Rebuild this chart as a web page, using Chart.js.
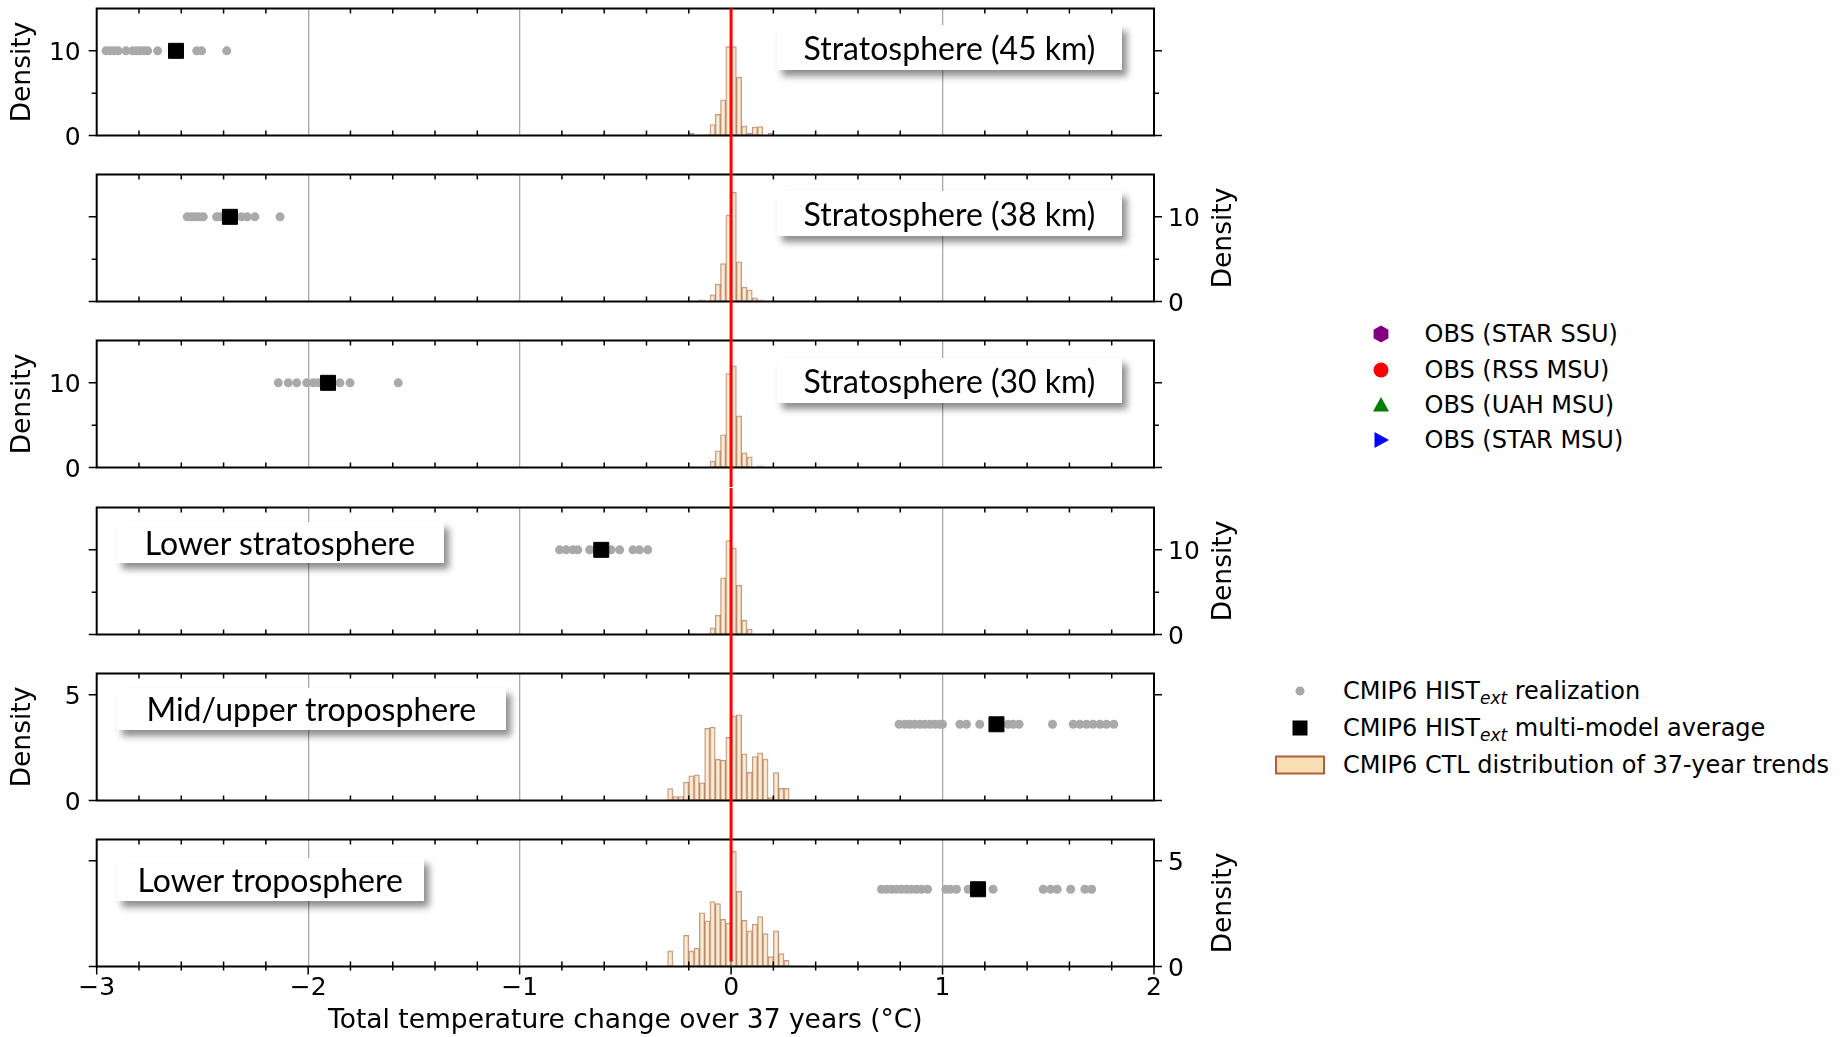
<!DOCTYPE html>
<html>
<head>
<meta charset="utf-8">
<title>Total temperature change over 37 years</title>
<script src="https://cdn.jsdelivr.net/npm/chart.js@4.4.1/dist/chart.umd.min.js"></script>
<style>
  html, body { margin: 0; padding: 0; background: #fff; overflow: hidden; }
  #fig { position: relative; width: 1846px; height: 1037px; overflow: hidden; font-family: 'DejaVu Sans', sans-serif; color: #000; }
  #fig canvas { position: absolute; left: 0; }
  .tag {
    position: absolute; background: #fff; box-shadow: 5px 6px 7px rgba(0,0,0,.45);
    font-family: Lato, sans-serif; font-size: 32px; display: flex; align-items: center;
    justify-content: center; white-space: nowrap;
  }
  .lg { position: absolute; font-size: 24px; line-height: 30px; height: 30px; white-space: nowrap; }
  .lg sub { font-style: italic; font-size: 17px; vertical-align: -5px; line-height: 0; }
  .mk { position: absolute; }
</style>
</head>
<body>
<div id="fig"></div>
<script>
// histogram bins, 0.025 wide, centred on these trend values (°C)
const binCenters = [
  -0.2875, -0.2625, -0.2375, -0.2125, -0.1875, -0.1625, -0.1375, -0.1125,
  -0.0875, -0.0625, -0.0375, -0.0125, 0.0125, 0.0375, 0.0625, 0.0875,
  0.1125, 0.1375, 0.1625, 0.1875, 0.2125, 0.2375, 0.2625, 0.2875
];

// CTL density of 37-year trends, one array per layer
const histStrat45 = [0, 0, 0, 0, 0.27, 0, 0, 0.1, 1.3, 2.5, 4.2, 10.5, 10.5, 6.9, 1.1, 0.27, 1.0, 1.06, 0, 0.27, 0, 0, 0, 0];
const histStrat38 = [0, 0, 0, 0, 0, 0, 0.2, 0, 0.79, 2.05, 4.47, 10.2, 12.9, 4.7, 1.7, 1.38, 0.43, 0.2, 0, 0, 0, 0, 0, 0];
const histStrat30 = [0, 0, 0, 0, 0, 0, 0, 0, 0.75, 1.98, 3.87, 11.1, 12.0, 6.1, 1.74, 1.26, 0, 0.2, 0, 0, 0, 0, 0, 0];
const histLowerStrat = [0, 0, 0, 0, 0, 0, 0, 0, 0.79, 2.29, 6.7, 11.1, 10.2, 5.8, 1.66, 0.63, 0, 0, 0, 0, 0, 0, 0, 0];
const histMidUpperTrop = [0.56, 0.19, 0.19, 0.87, 1.17, 1.21, 0.84, 3.41, 3.46, 1.94, 1.90, 2.98, 4.00, 4.05, 2.20, 1.33, 2.08, 2.25, 1.97, 0.14, 1.32, 0.57, 0.57, 0];
const histLowerTrop = [0.74, 0, 0, 1.47, 0.74, 0.87, 2.54, 2.16, 3.07, 2.97, 2.23, 2.05, 5.44, 3.55, 2.18, 1.68, 2.00, 2.36, 1.55, 0.47, 1.68, 0.61, 0.29, 0];

// HIST_ext realizations (total change, °C)
const runsStrat45 = [-2.956, -2.937, -2.918, -2.898, -2.861, -2.830, -2.811, -2.795, -2.776, -2.759, -2.712, -2.638, -2.527, -2.504, -2.385];
const runsStrat38 = [-2.572, -2.553, -2.534, -2.515, -2.496, -2.433, -2.417, -2.390, -2.315, -2.288, -2.252, -2.133];
const runsStrat30 = [-2.141, -2.094, -2.054, -2.007, -1.976, -1.952, -1.850, -1.802, -1.574];
const runsLowerStrat = [-0.811, -0.780, -0.748, -0.725, -0.669, -0.640, -0.567, -0.527, -0.464, -0.433, -0.394];
const runsMidUpperTrop = [0.795, 0.822, 0.845, 0.869, 0.893, 0.916, 0.940, 0.964, 0.987, 1.000, 1.082, 1.113, 1.176, 1.310, 1.334, 1.362, 1.520, 1.618, 1.649, 1.681, 1.712, 1.744, 1.775, 1.810];
const runsLowerTrop = [0.711, 0.735, 0.759, 0.782, 0.806, 0.830, 0.853, 0.877, 0.901, 0.929, 1.016, 1.038, 1.066, 1.121, 1.239, 1.476, 1.511, 1.542, 1.606, 1.673, 1.705];

// multi-model averages and the density level the markers sit at
const multiModelMean = [-2.625, -2.370, -1.906, -0.614, 1.255, 1.168];
const markerLevel = [10, 10, 10, 10, 3.6, 3.65];

const layerNames = ['Stratosphere (45 km)', 'Stratosphere (38 km)', 'Stratosphere (30 km)',
  'Lower stratosphere', 'Mid/upper troposphere', 'Lower troposphere'];
const densityMax = [15, 15, 15, 15, 6, 6];
const densityTicks = [[0, 10], [0, 10], [0, 10], [0, 10], [0, 5], [0, 5]];
const densityMinor = [[5], [5], [5], [5], [], []];
const axisSide = ['left', 'right', 'left', 'right', 'left', 'right'];
const xMin = -3, xMax = 2;

const hists = [histStrat45, histStrat38, histStrat30, histLowerStrat, histMidUpperTrop, histLowerTrop];
const runs = [runsStrat45, runsStrat38, runsStrat30, runsLowerStrat, runsMidUpperTrop, runsLowerTrop];

const TICK_FONT = { family: 'DejaVu Sans', size: 25 };
const minus = (v) => (v < 0 ? '\u2212' + Math.abs(v) : String(v));

// box, ticks, zero line and the y title
const frame = {
  id: 'frame',
  afterDraw(chart, args, o) {
    const { ctx, chartArea: a, scales: { x, y } } = chart;
    ctx.save();
    ctx.strokeStyle = '#000';
    ctx.lineWidth = 1.5;
    ctx.beginPath();
    for (let k = xMin * 5 + 1; k < xMax * 5; k++) {
      if (k % 5 === 0) continue;
      const px = x.getPixelForValue(k / 5);
      ctx.moveTo(px, a.top); ctx.lineTo(px, a.top + 5);
      ctx.moveTo(px, a.bottom - 5); ctx.lineTo(px, a.bottom + (o.last ? 4 : 0));
    }
    if (o.last) {
      for (let v = xMin; v <= xMax; v++) {
        const px = x.getPixelForValue(v);
        ctx.moveTo(px, a.bottom); ctx.lineTo(px, a.bottom + 8);
      }
    }
    const yt = (v, len) => {
      const py = y.getPixelForValue(v);
      ctx.moveTo(a.left - len, py); ctx.lineTo(a.left, py);
      ctx.moveTo(a.right, py); ctx.lineTo(a.right + len, py);
    };
    o.major.forEach((v) => yt(v, 8));
    o.minor.forEach((v) => yt(v, 5));
    ctx.stroke();

    ctx.lineWidth = 2;
    ctx.strokeRect(a.left, a.top, a.width, a.height);

    // y title reads bottom-to-top on either side
    ctx.fillStyle = '#000';
    ctx.font = '26.5px "DejaVu Sans"';
    ctx.textAlign = 'center';
    ctx.textBaseline = 'middle';
    const tx = o.side === 'left' ? a.left - 74 : a.right + 70;
    ctx.translate(tx, (a.top + a.bottom) / 2);
    ctx.rotate(-Math.PI / 2);
    ctx.fillText('Density', 0, 0);
    ctx.setTransform(1, 0, 0, 1, 0, 0);

    // zero-trend line running through the whole column
    const x0 = x.getPixelForValue(0);
    ctx.strokeStyle = '#ff0000';
    ctx.lineWidth = 3;
    ctx.beginPath();
    ctx.moveTo(x0, o.first ? a.top : 0);
    ctx.lineTo(x0, o.last ? a.bottom - 5 : chart.height);
    ctx.stroke();
    ctx.restore();
  }
};

// scales keep a fixed box and give no extra padding to the layout
function pinScale(s, w, h) {
  if (w !== null) s.width = w;
  if (h !== null) s.height = h;
  s.paddingTop = 0; s.paddingBottom = 0; s.paddingLeft = 0; s.paddingRight = 0;
}

const fig = document.getElementById('fig');
const W = 1250, LEFT_W = 96.7, RIGHT_W = 96, PAD = 19.5, PANEL_H = 127;

function addPanel(i) {
  const last = i === 5;
  const canvas = document.createElement('canvas');
  const top = Math.round(i * 166.2) - 11;
  const h = last ? 1037 - top : 166;
  canvas.width = W;
  canvas.height = h;
  canvas.style.top = top + 'px';
  fig.appendChild(canvas);

  const side = axisSide[i];
  const barData = [];
  binCenters.forEach((c, k) => { if (hists[i][k] > 0) barData.push({ x: c, y: hists[i][k] }); });

  new Chart(canvas, {
    type: 'bar',
    data: {
      datasets: [
        {
          type: 'scatter', order: 0,
          data: [{ x: multiModelMean[i], y: markerLevel[i] }],
          pointStyle: 'rect', pointRadius: 10.6, backgroundColor: '#000', borderColor: '#000', borderWidth: 1,
        },
        {
          type: 'scatter', order: 1,
          data: runs[i].map((v) => ({ x: v, y: markerLevel[i] })),
          pointRadius: 4.5, backgroundColor: '#a9a9a9', borderWidth: 0,
        },
        {
          type: 'bar', order: 2,
          data: barData,
          backgroundColor: 'rgba(245,222,179,0.55)',
          borderColor: 'rgba(160,82,45,0.6)',
          borderWidth: 1,
          borderSkipped: false,
          barPercentage: 1,
          categoryPercentage: 1,
        },
      ],
    },
    options: {
      responsive: false,
      animation: false,
      events: [],
      layout: {
        padding: {
          top: PAD,
          bottom: last ? 0 : PAD,
          left: side === 'left' ? 0 : LEFT_W,
          right: side === 'left' ? RIGHT_W : 0,
        },
      },
      plugins: {
        legend: { display: false },
        tooltip: { enabled: false },
        frame: { first: i === 0, last, side, major: densityTicks[i], minor: densityMinor[i] },
      },
      scales: {
        x: {
          type: 'linear', min: xMin, max: xMax, offset: false,
          grid: {
            offset: false, drawTicks: false, lineWidth: 1.3,
            color: (c) => (c.tick && c.tick.value > xMin && c.tick.value < xMax ? '#a8a8a8' : 'rgba(0,0,0,0)'),
          },
          border: { display: false },
          ticks: { display: last, stepSize: 1, padding: 7, color: '#000', font: TICK_FONT, callback: minus },
          title: {
            display: last, text: 'Total temperature change over 37 years (\u00b0C)', color: '#000',
            font: { family: 'DejaVu Sans', size: 26.5 }, padding: { top: 0, bottom: 0 },
          },
          afterFit: (s) => pinScale(s, null, last ? h - PAD - PANEL_H : 0),
        },
        y: {
          type: 'linear', position: side, min: 0, max: densityMax[i],
          grid: { display: false, drawTicks: false },
          border: { display: false },
          ticks: {
            stepSize: 5, padding: side === 'left' ? 16 : 14, labelOffset: 3, color: '#000', font: TICK_FONT,
            callback: (v) => (densityTicks[i].includes(v) ? String(v) : ''),
          },
          afterFit: (s) => pinScale(s, side === 'left' ? LEFT_W : RIGHT_W, null),
        },
      },
    },
    plugins: [frame],
  });
}

for (let i = 0; i < 6; i++) addPanel(i);

// layer name boxes
const tagBoxes = [
  [777, 25, 345, 44.5], [777, 191, 345, 44.5], [777, 358, 345, 44.5],
  [116.5, 521.5, 327, 41], [116.5, 687.5, 389.5, 42.5], [116.5, 858, 307.5, 42.5],
];
layerNames.forEach((name, i) => {
  const [l, t, w, hh] = tagBoxes[i];
  const d = document.createElement('div');
  d.className = 'tag';
  d.style.cssText = `left:${l}px;top:${t}px;width:${w}px;height:${hh}px;`;
  d.textContent = name;
  fig.appendChild(d);
});

// legends
function legendRow(cy, mx, tx, svg, html) {
  const m = document.createElement('div');
  m.className = 'mk';
  m.style.cssText = `left:${mx - 25}px;top:${cy - 12}px;width:50px;height:24px;`;
  m.innerHTML = `<svg width="50" height="24" viewBox="-25 -12 50 24">${svg}</svg>`;
  fig.appendChild(m);
  const t = document.createElement('div');
  t.className = 'lg';
  t.style.cssText = `left:${tx}px;top:${cy - 15}px;`;
  t.innerHTML = html;
  fig.appendChild(t);
}

const obsLegend = [
  ['<polygon points="0,-8.5 7.4,-4.25 7.4,4.25 0,8.5 -7.4,4.25 -7.4,-4.25" fill="#800080"/>', 'OBS (STAR SSU)'],
  ['<circle r="7.5" fill="#ff0000"/>', 'OBS (RSS MSU)'],
  ['<polygon points="0,-8 8,6.5 -8,6.5" fill="#008000"/>', 'OBS (UAH MSU)'],
  ['<polygon points="8,0 -6.5,-8 -6.5,8" fill="#0000ff"/>', 'OBS (STAR MSU)'],
];
obsLegend.forEach(([svg, label], k) => legendRow(334.4 + k * 35.3, 1381, 1424.5, svg, label));

const cmipLegend = [
  ['<circle r="4.5" fill="#a9a9a9"/>', 'CMIP6 HIST<sub>ext</sub> realization'],
  ['<rect x="-7.5" y="-7.5" width="15" height="15" fill="#000"/>', 'CMIP6 HIST<sub>ext</sub> multi-model average'],
  ['<rect x="-24" y="-8.5" width="48" height="17" fill="#f8deb3" stroke="#b0603a" stroke-width="2"/>', 'CMIP6 CTL distribution of 37-year trends'],
];
cmipLegend.forEach(([svg, label], k) => legendRow(691 + k * 37, 1300, 1343, svg, label));
</script>
</body>
</html>
